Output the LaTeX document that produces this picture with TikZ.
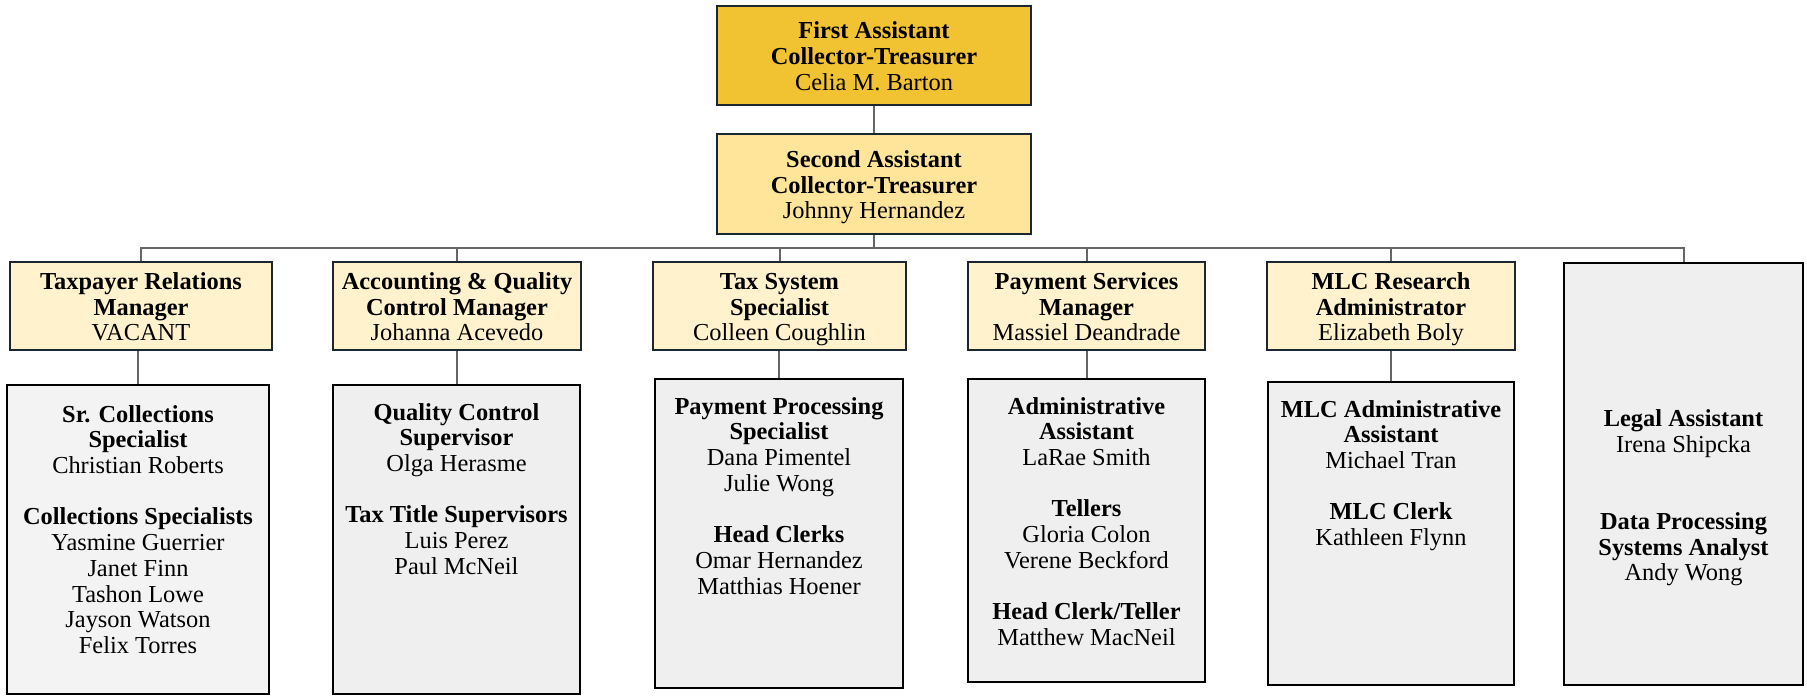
\documentclass[tikz,border=0pt]{standalone}
\usepackage{fontspec}
\setmainfont{Liberation Serif}
\definecolor{gold}{HTML}{F1C232}
\definecolor{lightgold}{HTML}{FFE599}
\definecolor{cream}{HTML}{FFF2CC}
\definecolor{paper}{HTML}{EFEFEF}
\definecolor{paperlight}{HTML}{F3F3F3}
\definecolor{navy}{HTML}{1B2631}
\definecolor{wire}{HTML}{666666}
\newcommand{\gap}{\\[12.85pt]}
\newcommand{\post}[3]{\rule{0pt}{13pt}\textbf{#1}\\\textbf{#2}\\#3\strut}
\begin{document}
\begin{tikzpicture}[x=0.5pt,y=-0.5pt,font=\fontsize{12.2}{12.85}\selectfont,
    head/.style={draw=navy,line width=1pt,align=center,inner sep=0pt},
    staff/.style={draw=black,line width=1.2pt,fill=paper,inner sep=0pt},
    names/.style={align=center,inner sep=0pt,anchor=north},
    link/.style={draw=wire,line width=1pt}]
		\useasboundingbox (0,0) rectangle (1807,697);
		\node[head,fill=gold,minimum width=157pt,minimum height=49.5pt] (first) at (874,55.5) {\post{First Assistant}{Collector-Treasurer}{Celia M. Barton}};
		\node[head,fill=lightgold,minimum width=157pt,minimum height=50pt] (second) at (874,184) {\post{Second Assistant}{Collector-Treasurer}{Johnny Hernandez}};
		\node[head,fill=cream,minimum width=131pt,minimum height=44pt] (tp) at (141,306) {\post{Taxpayer Relations}{Manager}{VACANT}};
		\node[head,fill=cream,minimum width=124pt,minimum height=44pt] (acc) at (457,306) {\post{Accounting \& Quality}{Control Manager}{Johanna Acevedo}};
		\node[head,fill=cream,minimum width=126.5pt,minimum height=44pt] (tax) at (779.5,306) {\post{Tax System}{Specialist}{Colleen Coughlin}};
		\node[head,fill=cream,minimum width=118.5pt,minimum height=44pt] (pay) at (1086.5,306) {\post{Payment Services}{Manager}{Massiel Deandrade}};
		\node[head,fill=cream,minimum width=124pt,minimum height=44pt] (mlc) at (1391,306) {\post{MLC Research}{Administrator}{Elizabeth Boly}};
		\node[staff,fill=paperlight,minimum width=131pt,minimum height=154.5pt] (tp-s) at (138,539.5) {};
		\node[staff,minimum width=123.5pt,minimum height=154.5pt] (acc-s) at (456.5,539.5) {};
		\node[staff,minimum width=124pt,minimum height=154.5pt] (tax-s) at (779,533.5) {};
		\node[staff,minimum width=118.5pt,minimum height=151.5pt] (pay-s) at (1086.5,530.5) {};
		\node[staff,minimum width=123pt,minimum height=151.5pt] (mlc-s) at (1391,533.5) {};
		\node[staff,minimum width=119.5pt,minimum height=211pt] (legal) at (1683.5,474) {};
		% names in the staff boxes
		\node[names] (tp-t) at ([yshift=-10.5pt]tp-s.north) {\textbf{Sr. Collections}\\\textbf{Specialist}\\Christian Roberts\gap\textbf{Collections Specialists}\\Yasmine Guerrier\\Janet Finn\\Tashon Lowe\\Jayson Watson\\Felix Torres};
		\node[names] (acc-t) at ([yshift=-9.5pt]acc-s.north) {\textbf{Quality Control}\\\textbf{Supervisor}\\Olga Herasme\gap\textbf{Tax Title Supervisors}\\Luis Perez\\Paul McNeil};
		\node[names] (tax-t) at ([yshift=-9.5pt]tax-s.north) {\textbf{Payment Processing}\\\textbf{Specialist}\\Dana Pimentel\\Julie Wong\gap\textbf{Head Clerks}\\Omar Hernandez\\Matthias Hoener};
		\node[names] (pay-t) at ([yshift=-9.5pt]pay-s.north) {\textbf{Administrative}\\\textbf{Assistant}\\LaRae Smith\gap\textbf{Tellers}\\Gloria Colon\\Verene Beckford\gap\textbf{Head Clerk/Teller}\\Matthew MacNeil};
		\node[names] (mlc-t) at ([yshift=-9.5pt]mlc-s.north) {\textbf{MLC Administrative}\\\textbf{Assistant}\\Michael Tran\gap\textbf{MLC Clerk}\\Kathleen Flynn};
		\node[names] (legal-t) at ([yshift=-73.7pt]legal.north) {\textbf{Legal Assistant}\\Irena Shipcka\\[25.7pt]\textbf{Data Processing}\\\textbf{Systems Analyst}\\Andy Wong};
		% connectors
		\coordinate (bus) at (874,248);
		\draw[link] (first) -- (second);
		\foreach \n in {tp,acc,tax,pay,mlc,legal} \draw[link] (second.south) -- (bus) -| (\n.north);
		\foreach \n in {tp,acc,tax,pay,mlc} \draw[link] (\n-s.north) -- (\n-s.north |- \n.south);
\end{tikzpicture}
\end{document}
